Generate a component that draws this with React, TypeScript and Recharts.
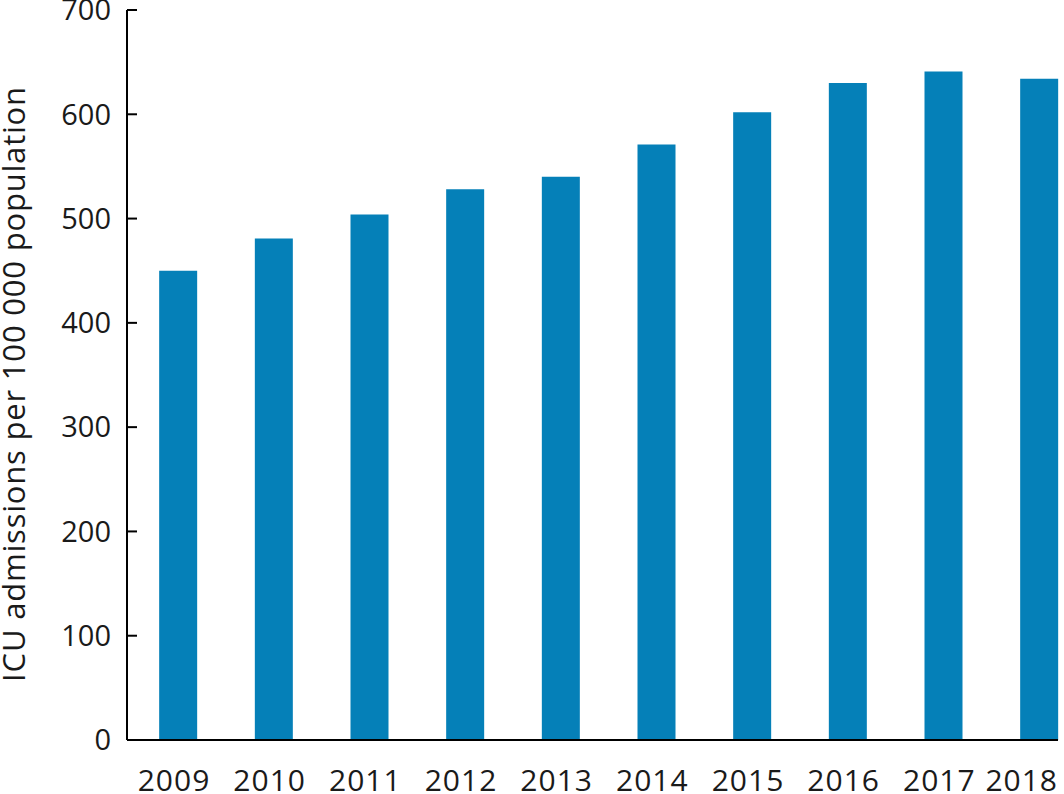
import { BarChart, Bar, XAxis, YAxis, Label } from 'recharts';

// ICU admissions per 100 000 population, by year
const years = [2009, 2010, 2011, 2012, 2013, 2014, 2015, 2016, 2017, 2018];
const admissions = [450, 481, 504, 528, 540, 571, 602, 630, 641, 634];
const yTicks = [0, 100, 200, 300, 400, 500, 600, 700];

const data = years.map((year, i) => ({ year, value: admissions[i] }));

const FONT = '"Open Sans", Lato, sans-serif';
const tickStyle = { fontSize: 29, fill: '#1a1a1a', fontFamily: FONT };

const YLabel = () => (
    <text
        x={25}
        y={384}
        transform="rotate(-90, 25, 384)"
        textAnchor="middle"
        fontSize={31}
        letterSpacing={0.8}
        fontFamily={FONT}
        fill="#1a1a1a"
    >
        ICU admissions per 100 000 population
    </text>
);

// year labels under the bars; the last one is kept inside the chart edge
const YearTick = ({ x, y, payload }: any) => {
    const last = payload.value === years[years.length - 1];
    return (
        <text
            x={last ? x + 19 : x - 4}
            y={y}
            dy="0.71em"
            textAnchor={last ? 'end' : 'middle'}
            fontSize={30}
            letterSpacing={1}
            fontFamily={FONT}
            fill="#1a1a1a"
        >
            {payload.value}
        </text>
    );
};

const App = () => {
    return (
        <div style={{ position: 'absolute', left: 0, top: 0, background: '#fff' }}>
            <BarChart
                width={1064}
                height={794}
                data={data}
                margin={{ top: 10, right: 6, bottom: 0, left: 0 }}
            >
                <XAxis
                    dataKey="year"
                    type="number"
                    domain={[2009, 2018]}
                    ticks={years}
                    interval={0}
                    height={54}
                    padding={{ left: 51, right: 19 }}
                    allowDecimals={false}
                    tickLine={false}
                    tickSize={0}
                    tickMargin={30}
                    tick={<YearTick />}
                    axisLine={{ stroke: '#000', strokeWidth: 2 }}
                />
                <YAxis
                    width={127}
                    domain={[0, 700]}
                    ticks={yTicks}
                    interval={0}
                    tickSize={-10}
                    tickMargin={26}
                    tick={tickStyle}
                    tickLine={{ stroke: '#000', strokeWidth: 2 }}
                    axisLine={{ stroke: '#000', strokeWidth: 2 }}
                >
                    <Label content={() => <YLabel />} />
                </YAxis>
                <Bar dataKey="value" fill="#0580b8" barSize={38} isAnimationActive={false} />
            </BarChart>
        </div>
    );
};

export default App;
